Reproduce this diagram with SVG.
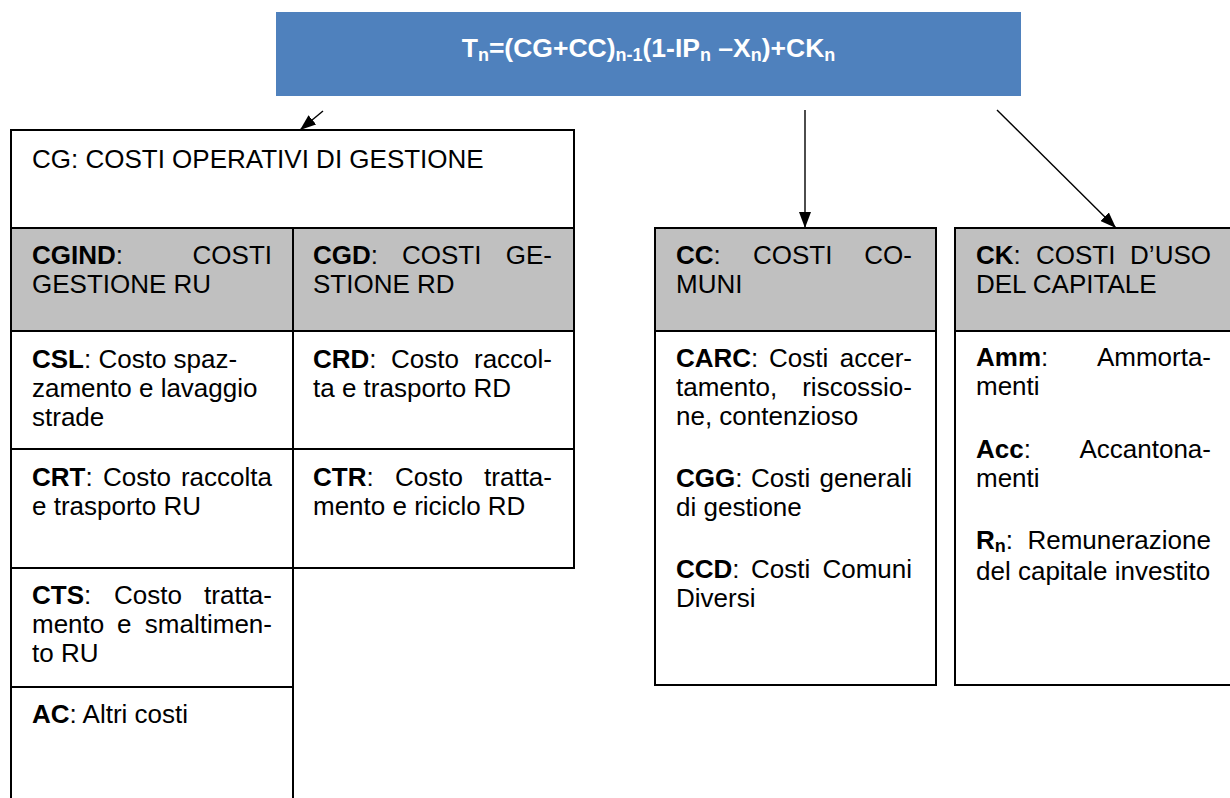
<svg xmlns="http://www.w3.org/2000/svg" width="1230" height="798" viewBox="0 0 1230 798">
<style>
text{font-family:"Liberation Sans",Arial,sans-serif;font-size:26px;fill:#000}
.b{font-weight:bold}
.e{text-anchor:end}
.w{fill:#fff;stroke:#000;stroke-width:2}
.g{fill:#c0c0c0;stroke:#000;stroke-width:2}
.ttl{font-weight:bold;fill:#fff;font-size:26.5px;text-anchor:middle}
.sub{font-size:18px}
.c{stroke:#000;stroke-width:1.4;fill:none;marker-end:url(#ah)}
</style>
<defs>
<marker id="ah" markerUnits="userSpaceOnUse" markerWidth="16" markerHeight="12" refX="16" refY="6" orient="auto" viewBox="0 0 16 12"><path d="M0,0 L16,6 L0,12 z" fill="#000"/></marker>
</defs>
<rect x="0" y="0" width="1230" height="798" fill="#fff"/>
<g id="title">
<rect x="276" y="12" width="745" height="84" fill="#4F81BD"/>
<text class="ttl" x="648.5" y="57">T<tspan class="sub" dy="4">n</tspan><tspan dy="-4">=(CG+CC)</tspan><tspan class="sub" dy="4">n-1</tspan><tspan dy="-4">(1-IP</tspan><tspan class="sub" dy="4">n</tspan><tspan dy="-4"> –X</tspan><tspan class="sub" dy="4">n</tspan><tspan dy="-4">)+CK</tspan><tspan class="sub" dy="4">n</tspan></text>
</g>
<g id="connectors">
<line class="c" x1="323" y1="111" x2="300" y2="130"/>
<line class="c" x1="805" y1="110" x2="805" y2="228"/>
<line class="c" x1="997" y1="110" x2="1116" y2="228"/>
</g>
<g id="cg">
<rect class="w" x="11" y="130" width="563" height="98"/>
<text x="32" y="168">CG: COSTI OPERATIVI DI GESTIONE</text>
</g>
<g id="cgind">
<rect class="g" x="11" y="228" width="282" height="103"/>
<text x="32" y="264"><tspan class="b">CGIND</tspan>:</text>
<text class="e" x="272" y="264">COSTI</text>
<text x="32" y="293">GESTIONE RU</text>
</g>
<g id="cgd">
<rect class="g" x="293" y="228" width="281" height="103"/>
<text x="313" y="264"><tspan class="b">CGD</tspan>:</text>
<text x="402" y="264">COSTI</text>
<text class="e" x="552" y="264">GE-</text>
<text x="313" y="293">STIONE RD</text>
</g>
<g id="csl">
<rect class="w" x="11" y="331" width="282" height="118"/>
<text x="32" y="368"><tspan class="b">CSL</tspan>: Costo spaz-</text>
<text x="32" y="397">zamento e lavaggio</text>
<text x="32" y="426">strade</text>
</g>
<g id="crd">
<rect class="w" x="293" y="331" width="281" height="118"/>
<text x="313" y="368"><tspan class="b">CRD</tspan>:</text>
<text x="391" y="368">Costo</text>
<text class="e" x="552" y="368">raccol-</text>
<text x="313" y="397">ta e trasporto RD</text>
</g>
<g id="crt">
<rect class="w" x="11" y="449" width="282" height="119"/>
<text x="32" y="486"><tspan class="b">CRT</tspan>:</text>
<text x="103" y="486">Costo</text>
<text class="e" x="272" y="486">raccolta</text>
<text x="32" y="515">e trasporto RU</text>
</g>
<g id="ctr">
<rect class="w" x="293" y="449" width="281" height="119"/>
<text x="313" y="486"><tspan class="b">CTR</tspan>:</text>
<text x="395" y="486">Costo</text>
<text class="e" x="552" y="486">tratta-</text>
<text x="313" y="515">mento e riciclo RD</text>
</g>
<g id="cts">
<rect class="w" x="11" y="568" width="282" height="119"/>
<text x="32" y="604"><tspan class="b">CTS</tspan>:</text>
<text x="114" y="604">Costo</text>
<text class="e" x="272" y="604">tratta-</text>
<text x="32" y="633">mento</text>
<text x="117" y="633">e</text>
<text class="e" x="272" y="633">smaltimen-</text>
<text x="32" y="662">to RU</text>
</g>
<g id="ac">
<rect class="w" x="11" y="687" width="282" height="130"/>
<text x="32" y="723"><tspan class="b">AC</tspan>: Altri costi</text>
</g>
<g id="cc">
<rect class="g" x="655" y="228" width="281" height="103"/>
<rect class="w" x="655" y="331" width="281" height="354"/>
<text x="676" y="264"><tspan class="b">CC</tspan>:</text>
<text x="753" y="264">COSTI</text>
<text class="e" x="912" y="264">CO-</text>
<text x="676" y="293">MUNI</text>
<text x="676" y="367"><tspan class="b">CARC</tspan>:</text>
<text x="769" y="367">Costi</text>
<text class="e" x="912" y="367">accer-</text>
<text x="676" y="396">tamento,</text>
<text class="e" x="912" y="396">riscossio-</text>
<text x="676" y="425">ne, contenzioso</text>
<text x="676" y="487"><tspan class="b">CGG</tspan>:</text>
<text x="751" y="487">Costi</text>
<text class="e" x="912" y="487">generali</text>
<text x="676" y="516">di gestione</text>
<text x="676" y="578"><tspan class="b">CCD</tspan>:</text>
<text x="751" y="578">Costi</text>
<text class="e" x="912" y="578">Comuni</text>
<text x="676" y="607">Diversi</text>
</g>
<g id="ck">
<rect class="g" x="955" y="228" width="300" height="103"/>
<rect class="w" x="955" y="331" width="300" height="354"/>
<text x="976" y="264"><tspan class="b">CK</tspan>:</text>
<text x="1036" y="264">COSTI</text>
<text class="e" x="1211" y="264">D’USO</text>
<text x="976" y="293">DEL CAPITALE</text>
<text x="976" y="366"><tspan class="b">Amm</tspan>:</text>
<text class="e" x="1211" y="366">Ammorta-</text>
<text x="976" y="395">menti</text>
<text x="976" y="458"><tspan class="b">Acc</tspan>:</text>
<text class="e" x="1211" y="458">Accantona-</text>
<text x="976" y="487">menti</text>
<text x="976" y="549"><tspan class="b">R</tspan><tspan class="b sub" dy="3">n</tspan><tspan dy="-3">:</tspan></text>
<text class="e" x="1211" y="549">Remunerazione</text>
<text x="976" y="580">del capitale investito</text>
</g>
</svg>
